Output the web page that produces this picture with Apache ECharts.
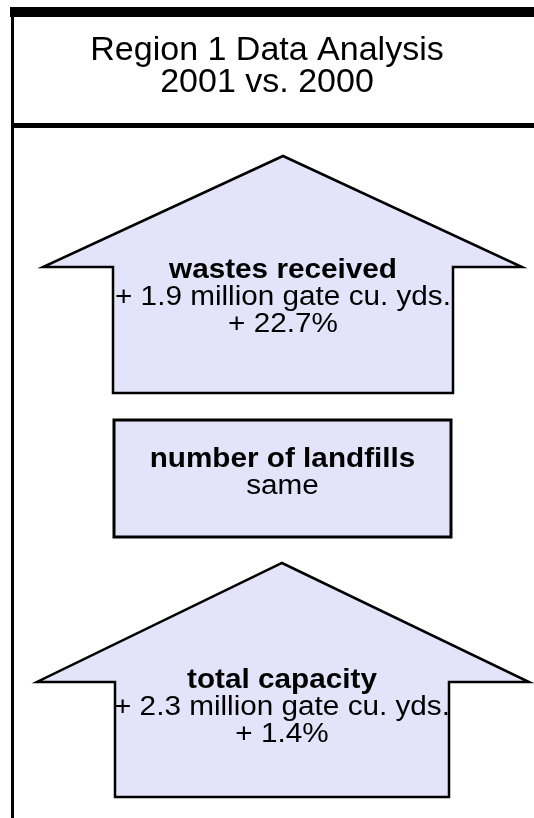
<!DOCTYPE html>
<html>
<head>
<meta charset="utf-8">
<script src="https://cdn.jsdelivr.net/npm/echarts@6/dist/echarts.min.js"></script>
<style>
  html, body { margin: 0; padding: 0; background: #fff; }
  #chart { width: 534px; height: 818px; }
</style>
</head>
<body>
<div id="chart"></div>
<script>
// 데이터
const titleLines = ['Region 1 Data Analysis', '2001 vs. 2000'];
const metricNames = ['wastes received', 'number of landfills', 'total capacity'];
const changeAmounts = ['+ 1.9 million gate cu. yds.', 'same', '+ 2.3 million gate cu. yds.'];
const changePercents = ['+ 22.7%', '', '+ 1.4%'];
const directions = ['up', 'flat', 'up'];

// 패널 배치 (위치만)
const panels = [
  { top: 156, wingY: 267, bottom: 393, left: 113, right: 453, tipL: 43, tipR: 522, apexX: 283, textY: 271 },
  { top: 420, bottom: 537, left: 114, right: 451, textY: 460 },
  { top: 563, wingY: 682, bottom: 797, left: 115, right: 449, tipL: 37, tipR: 529, apexX: 282, textY: 681 }
];

const FILL = '#e3e3fa';
const FONT = '"Liberation Sans", Arial, sans-serif';
const STRETCH = 1.1;

function textLine(str, x, y, size, bold, sx) {
  return {
    type: 'text', x: x, y: y, scaleX: sx, z: 10,
    style: {
      text: str, fill: '#000', align: 'center', verticalAlign: 'middle',
      font: (bold ? 'bold ' : '') + size + 'px ' + FONT
    }
  };
}

const elements = [];

// 프레임
elements.push({ type: 'rect', shape: { x: 10, y: 7, width: 524, height: 10 }, style: { fill: '#000' } });
elements.push({ type: 'rect', shape: { x: 11, y: 7, width: 3, height: 811 }, style: { fill: '#000' } });
elements.push({ type: 'rect', shape: { x: 11, y: 123, width: 523, height: 5 }, style: { fill: '#000' } });

// 제목
elements.push(textLine(titleLines[0], 267, 51, 34, false, 1));
elements.push(textLine(titleLines[1], 267, 83, 34, false, 1));

panels.forEach((p, i) => {
  const cx = (p.left + p.right) / 2;
  if (directions[i] === 'up') {
    elements.push({
      type: 'polygon',
      shape: { points: [[p.left, p.bottom], [p.left, p.wingY], [p.tipL, p.wingY], [p.apexX, p.top],
                        [p.tipR, p.wingY], [p.right, p.wingY], [p.right, p.bottom]] },
      style: { fill: FILL, stroke: '#000', lineWidth: 2.5, lineJoin: 'miter' }
    });
  } else {
    elements.push({
      type: 'rect',
      shape: { x: p.left, y: p.top, width: p.right - p.left, height: p.bottom - p.top },
      style: { fill: FILL, stroke: '#000', lineWidth: 3 }
    });
  }
  const lines = [metricNames[i], changeAmounts[i], changePercents[i]].filter((s) => s);
  lines.forEach((s, k) => {
    elements.push(textLine(s, cx, p.textY + k * 27, 27, k === 0, STRETCH));
  });
});

const chart = echarts.init(document.getElementById('chart'));
chart.setOption({
  backgroundColor: '#fff',
  animation: false,
  graphic: { elements: elements }
});
</script>
</body>
</html>
